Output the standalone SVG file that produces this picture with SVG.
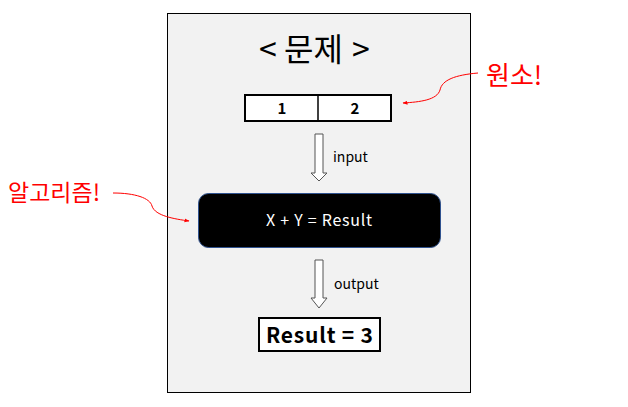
<svg xmlns="http://www.w3.org/2000/svg" width="628" height="407" viewBox="0 0 628 407">
<style>
  .t { font-family: "Noto Sans CJK KR", "Noto Sans", sans-serif; }
  .red { fill: #ff0000; }
  .cur { fill: none; stroke: #ff0000; stroke-width: 1; }
  .blk { fill: #ffffff; stroke: #555555; stroke-width: 1; }
</style>
<defs>
  <marker id="ah" viewBox="0 0 10 10" refX="9" refY="5" markerWidth="5" markerHeight="5" orient="auto">
    <path d="M0,1 L10,5 L0,9 Z" fill="#ff0000"/>
  </marker>
</defs>
<rect width="628" height="407" fill="#ffffff"/>
<g id="panel">
  <rect x="167.5" y="13.5" width="303" height="379" fill="#f2f2f2" stroke="#000000" stroke-width="1"/>
  <text class="t" y="61" font-size="32" fill="#000"><tspan x="259">&lt;</tspan><tspan x="284">문제</tspan><tspan x="352">&gt;</tspan></text>
</g>
<g id="table">
  <rect x="245" y="95" width="146" height="26" fill="#ffffff" stroke="#000" stroke-width="2"/>
  <line x1="318" y1="95" x2="318" y2="121" stroke="#000" stroke-width="1.5"/>
  <text class="t" x="282" y="114" font-size="15" font-weight="bold" text-anchor="middle">1</text>
  <text class="t" x="355" y="114" font-size="15" font-weight="bold" text-anchor="middle">2</text>
</g>
<g id="algo">
  <rect x="198.5" y="193.5" width="242" height="54" rx="10" fill="#000000" stroke="#2f528f" stroke-width="1"/>
  <text class="t" x="266" y="226" font-size="16" textLength="106" lengthAdjust="spacing" fill="#ffffff">X + Y = Result</text>
</g>
<g id="result">
  <rect x="259" y="318" width="121" height="33" fill="#ffffff" stroke="#000" stroke-width="2"/>
  <text class="t" x="266" y="343" font-size="21" font-weight="bold" textLength="107" lengthAdjust="spacing">Result = 3</text>
</g>
<g id="label-wonso">
  <text class="t red" x="486" y="85" font-size="26">원소!</text>
</g>
<g id="label-algo">
  <text class="t red" x="8" y="201" font-size="23">알고리즘!</text>
</g>
<g id="connectors">
  <path class="blk" d="M315,134 H323 V173 H327 L319,181 L311,173 H315 Z"/>
  <text class="t" x="333" y="162" font-size="14" fill="#000">input</text>
  <path class="blk" d="M315,260 H323 V298 H327 L319,308 L311,298 H315 Z"/>
  <text class="t" x="334" y="289" font-size="14" fill="#000">output</text>
  <path class="cur" d="M478,73 C455,75 442,80 440,90 C437,100 420,102 403,103" marker-end="url(#ah)"/>
  <path class="cur" d="M113,193 C135,193 150,198 152,206 C155,216 175,219 189,221" marker-end="url(#ah)"/>
</g>
</svg>
